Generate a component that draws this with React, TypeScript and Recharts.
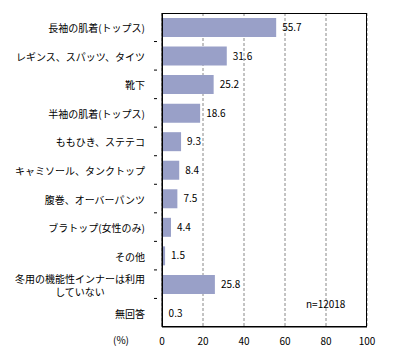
import { Bar, BarChart, CartesianGrid, LabelList, XAxis, YAxis } from "recharts";

const CATEGORIES = [
  "長袖の肌着(トップス)",
  "レギンス、スパッツ、タイツ",
  "靴下",
  "半袖の肌着(トップス)",
  "ももひき、ステテコ",
  "キャミソール、タンクトップ",
  "腹巻、オーバーパンツ",
  "ブラトップ(女性のみ)",
  "その他",
  "冬用の機能性インナーは利用\nしていない",
  "無回答",
];

const VALUES = [55.7, 31.6, 25.2, 18.6, 9.3, 8.4, 7.5, 4.4, 1.5, 25.8, 0.3];

const X_TICKS = [0, 20, 40, 60, 80, 100];

const data = CATEGORIES.map((name, i) => ({ name, value: VALUES[i] }));

const FONT = "'Noto Sans CJK JP', 'Noto Sans', sans-serif";
const LINE_H = 13;

const CategoryTick = (props: any) => {
  const { x, y, payload, index } = props;
  const lines = String(payload.value).split("\n");
  const band = 28.55;
  const multi = lines.length > 1;
  // wrapped label: lines centred on each other, block right-aligned
  const blockW = Math.max(...lines.map((l) => l.length)) * 10;
  const tx = multi ? x - 9 - blockW / 2 : x - 9;
  const start = y - ((lines.length - 1) * LINE_H) / 2;
  return (
    <g>
      <text
        x={tx}
        y={start}
        textAnchor={multi ? "middle" : "end"}
        dominantBaseline="central"
        fontSize={10}
        fontFamily={FONT}
        fill="#000"
      >
        {lines.map((l, i) => (
          <tspan key={i} x={tx} dy={i === 0 ? 0 : LINE_H}>
            {l}
          </tspan>
        ))}
      </text>
      {index > 0 && <line x1={x} x2={x + 3} y1={y - band / 2} y2={y - band / 2} stroke="#000" />}
    </g>
  );
};

const App = () => {
  return (
    <div style={{ position: "absolute", left: 0, top: 0, width: 399, height: 361 }}>
      <BarChart
        width={399}
        height={361}
        data={data}
        layout="vertical"
        margin={{ top: 13, right: 32, bottom: 20, left: 0 }}
      >
        <CartesianGrid horizontal={false} stroke="#888" strokeDasharray="3 2" />
        <XAxis
          type="number"
          domain={[0, 100]}
          ticks={X_TICKS}
          tickLine={false}
          axisLine={{ stroke: "#000" }}
          tick={{ fontSize: 10, fontFamily: FONT, fill: "#000" }}
          tickMargin={5}
          height={14}
        />
        <YAxis
          type="category"
          dataKey="name"
          width={162}
          tickLine={false}
          axisLine={{ stroke: "#000" }}
          tick={<CategoryTick />}
          interval={0}
        />
        <Bar dataKey="value" fill="#99a0c8" barSize={19} isAnimationActive={false}>
          <LabelList
            dataKey="value"
            position="right"
            offset={6}
            style={{ fontSize: 10, fontFamily: FONT, fill: "#000" }}
          />
        </Bar>
      </BarChart>
      {/* plot frame */}
      <div
        style={{
          position: "absolute",
          left: 162,
          top: 13,
          width: 205,
          height: 314,
          border: "1px solid #000",
          boxSizing: "border-box",
          pointerEvents: "none",
        }}
      />
      <div
        style={{
          position: "absolute",
          left: 113,
          top: 332,
          fontSize: 10,
          fontFamily: FONT,
        }}
      >
        (%)
      </div>
      <div
        style={{
          position: "absolute",
          left: 306,
          top: 296,
          fontSize: 10,
          fontFamily: FONT,
        }}
      >
        n=12018
      </div>
    </div>
  );
};

export default App;
